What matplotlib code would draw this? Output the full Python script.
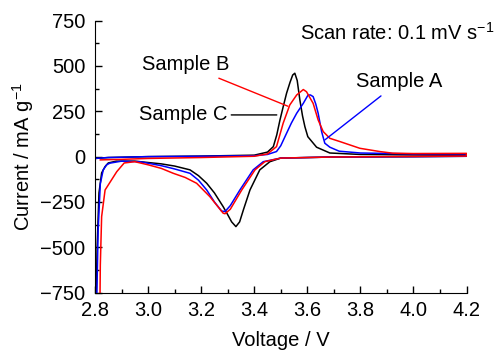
import matplotlib
matplotlib.use('Agg')
import matplotlib.pyplot as plt
from matplotlib.ticker import MultipleLocator

plt.rcParams['font.family'] = ['Liberation Sans', 'DejaVu Sans']
plt.rcParams['mathtext.default'] = 'regular'
plt.rcParams['font.size'] = 14.5

# Sample C (black) - anodic then cathodic sweep
c_v_up = [2.80, 2.85, 3.00, 3.20, 3.40, 3.45, 3.472, 3.485, 3.497, 3.51, 3.522, 3.535, 3.545, 3.553,
          3.562, 3.572, 3.582, 3.591, 3.602, 3.635, 3.685, 3.80, 4.00, 4.20]
c_i_up = [-10, -5, 0, 3, 8, 25, 55, 120, 202, 280, 350, 410, 450, 460,
          420, 313, 225, 165, 110, 52, 20, 12, 10, 10]
c_v_dn = [4.20, 4.00, 3.70, 3.50, 3.459, 3.421, 3.384, 3.36, 3.345, 3.331, 3.315, 3.30, 3.283, 3.25,
          3.221, 3.19, 3.158, 3.10, 3.05, 2.95, 2.88, 2.85, 2.838, 2.825, 2.815, 2.808, 2.803]
c_i_dn = [2, 0, -2, -8, -28, -73, -184, -290, -360, -386, -360, -320, -276, -200,
          -147, -105, -73, -52, -40, -25, -25, -35, -55, -90, -200, -500, -900]

# Sample A (blue)
a_v_up = [2.80, 2.85, 3.00, 3.20, 3.40, 3.45, 3.484, 3.50, 3.522, 3.54, 3.56, 3.585, 3.603, 3.612,
          3.622, 3.632, 3.641, 3.654, 3.666, 3.685, 3.72, 3.80, 4.00, 4.20]
a_i_up = [-10, -5, 0, 2, 5, 12, 28, 60, 129, 185, 239, 294, 340, 340,
          331, 290, 239, 138, 74, 52, 30, 20, 15, 15]
a_v_dn = [4.20, 4.00, 3.70, 3.50, 3.434, 3.396, 3.346, 3.31, 3.29, 3.277, 3.25, 3.221, 3.19, 3.158,
          3.10, 3.05, 2.969, 2.90, 2.856, 2.844, 2.831, 2.82, 2.812, 2.805]
a_i_dn = [2, 0, -2, -8, -28, -73, -184, -270, -303, -300, -250, -184, -130, -92,
          -68, -50, -28, -25, -36, -45, -73, -150, -400, -900]

# Sample B (red)
b_v_up = [2.82, 2.90, 3.00, 3.20, 3.40, 3.45, 3.484, 3.509, 3.534, 3.56, 3.585, 3.597, 3.622, 3.641,
          3.66, 3.685, 3.723, 3.798, 3.873, 3.922, 4.00, 4.20]
b_i_up = [-18, -15, -10, -5, 2, 15, 55, 184, 285, 340, 370, 358, 294, 202,
          138, 101, 83, 46, 28, 19, 17, 18]
b_v_dn = [4.20, 4.00, 3.70, 3.50, 3.44, 3.403, 3.353, 3.31, 3.29, 3.283, 3.233, 3.183, 3.14, 3.095,
          3.05, 3.00, 2.95, 2.91, 2.882, 2.838, 2.825, 2.82, 2.818]
b_i_dn = [3, 1, -2, -8, -28, -73, -184, -290, -315, -312, -221, -147, -115, -92,
          -65, -45, -28, -35, -83, -184, -331, -600, -900]

fig = plt.figure(figsize=(5, 3.5), dpi=100)
ax = fig.add_axes([0.19, 0.164, 0.743, 0.777])

ax.plot(c_v_up + c_v_dn, c_i_up + c_i_dn, color='black', lw=1.1)
ax.plot(a_v_up + a_v_dn, a_i_up + a_i_dn, color='blue', lw=1.1)
ax.plot(b_v_up + b_v_dn, b_i_up + b_i_dn, color='red', lw=1.1)

ax.set_xlim(2.8, 4.2)
ax.set_ylim(-750, 750)
ax.xaxis.set_minor_locator(MultipleLocator(0.1))
ax.yaxis.set_major_locator(MultipleLocator(250))
ax.yaxis.set_minor_locator(MultipleLocator(125))
ax.set_xticks([2.8, 3.0, 3.2, 3.4, 3.6, 3.8, 4.0, 4.2])
ax.set_xticklabels(['2.8', '3.0', '3.2', '3.4', '3.6', '3.8', '4.0', '4.2'])
ax.tick_params(which='both', direction='in', width=1)
ax.tick_params(which='major', length=5)
ax.tick_params(axis='y', which='major', pad=7)
ax.tick_params(axis='x', which='major', pad=6)
ax.tick_params(which='minor', length=3)
ax.spines['top'].set_visible(False)
ax.spines['right'].set_visible(False)

ax.set_xlabel('Voltage / V', labelpad=8)
ax.set_ylabel('Current / mA g$^{-1}$', labelpad=3)

ax.text(3.94, 681, 'Scan rate: 0.1 mV s$^{-1}$', ha='center', va='center')
ax.annotate('Sample B', xy=(3.527, 278), xytext=(3.143, 506), ha='center', va='center',
            arrowprops=dict(arrowstyle='-', color='red', lw=1, shrinkA=2, shrinkB=0))
ax.annotate('Sample C', xy=(3.485, 230), xytext=(3.131, 230), ha='center', va='center',
            arrowprops=dict(arrowstyle='-', color='black', lw=1, shrinkA=1, shrinkB=0))
ax.annotate('Sample A', xy=(3.666, 92), xytext=(3.945, 412), ha='center', va='center',
            arrowprops=dict(arrowstyle='-', color='blue', lw=1, shrinkA=2, shrinkB=0))

fig.savefig('out.png', dpi=100)
